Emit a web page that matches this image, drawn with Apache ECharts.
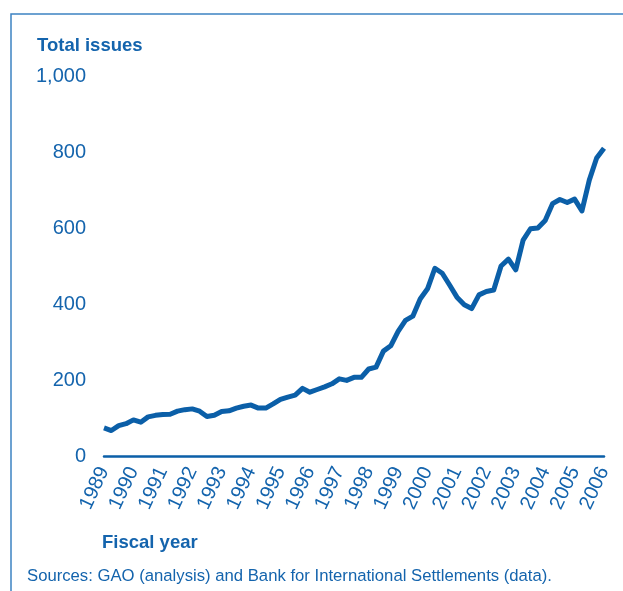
<!DOCTYPE html>
<html>
<head>
<meta charset="utf-8">
<script src="https://cdn.jsdelivr.net/npm/echarts@6/dist/echarts.min.js"></script>
<style>
  html, body { margin: 0; padding: 0; background: #fff; }
  #chart { width: 623px; height: 591px; }
</style>
</head>
<body>
<div id="chart"></div>
<script>
// fiscal years shown on the axis; data is quarterly, 1989 Q1 .. 2006 Q1
const years = [1989, 1990, 1991, 1992, 1993, 1994, 1995, 1996, 1997,
  1998, 1999, 2000, 2001, 2002, 2003, 2004, 2005, 2006];
const yTicks = [0, 200, 400, 600, 800, 1000];

// total issues, one value per quarter
const totalIssues = [
  74, 67, 80, 85, 95, 89, 103, 107, 109, 110, 118, 122,
  124, 118, 104, 107, 117, 119, 126, 131, 134, 126, 126, 137,
  149, 155, 160, 178, 168, 175, 182, 190, 203, 199, 207, 207,
  229, 234, 276, 290, 328, 357, 368, 413, 440, 494, 481, 450,
  418, 398, 388, 424, 433, 437, 500, 518, 490, 568, 598, 600,
  620, 664, 675, 667, 676, 645, 726, 784, 810
];

const blue = '#0b5fa8';
const textBlue = '#1464ad';
const font = 'Liberation Sans, Arial, sans-serif';

const categories = years
  .flatMap((y) => [y + '', y + ' Q2', y + ' Q3', y + ' Q4'])
  .slice(0, totalIssues.length);

const chart = echarts.init(document.getElementById('chart'));

chart.setOption({
  animation: false,
  textStyle: { fontFamily: font },
  grid: { left: 104, right: 19, top: 76, bottom: 135 },
  graphic: [
    {
      type: 'polyline',
      shape: { points: [[11, 591], [11, 14], [623, 14]] },
      style: { stroke: '#3d82c2', lineWidth: 1.5, fill: null }
    },
    {
      type: 'text', left: 37, top: 36,
      style: { text: 'Total issues', font: 'bold 18.5px ' + font, fill: textBlue }
    },
    {
      type: 'text', left: 102, top: 533,
      style: { text: 'Fiscal year', font: 'bold 18.5px ' + font, fill: textBlue }
    },
    {
      type: 'text', left: 27, top: 568,
      style: {
        text: 'Sources: GAO (analysis) and Bank for International Settlements (data).',
        font: '16.7px ' + font, fill: textBlue
      }
    }
  ],
  xAxis: {
    type: 'category',
    data: categories,
    boundaryGap: false,
    axisLine: { lineStyle: { color: blue, width: 2.5 } },
    axisTick: { show: false },
    axisLabel: {
      interval: (i) => i % 4 === 0,
      formatter: (v) => v.slice(0, 4),
      rotate: 65,
      margin: 12,
      color: textBlue,
      fontSize: 20
    },
    splitLine: { show: false }
  },
  yAxis: {
    type: 'value',
    min: yTicks[0],
    max: yTicks[yTicks.length - 1],
    interval: 200,
    axisLine: { show: false },
    axisTick: { show: false },
    splitLine: { show: false },
    axisLabel: {
      color: textBlue,
      fontSize: 20,
      margin: 18,
      formatter: (v) => v.toLocaleString('en-US')
    }
  },
  series: [
    {
      type: 'line',
      data: totalIssues,
      symbol: 'none',
      lineStyle: { color: blue, width: 5, join: 'round' }
    }
  ]
});
</script>
</body>
</html>
